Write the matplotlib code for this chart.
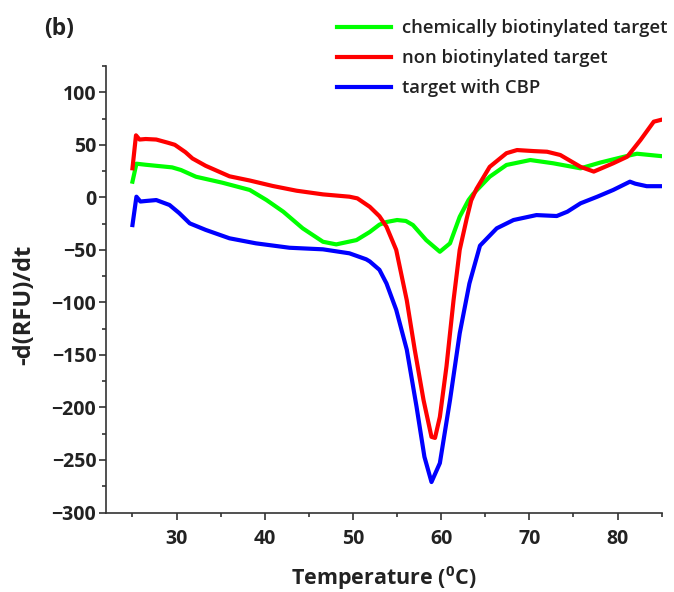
import matplotlib
matplotlib.use("Agg")
import matplotlib.pyplot as plt
from matplotlib.ticker import MultipleLocator

plt.rcParams['font.family'] = ['Open Sans', 'DejaVu Sans']
plt.rcParams['mathtext.fontset'] = 'custom'
plt.rcParams['mathtext.rm'] = 'Open Sans'
plt.rcParams['mathtext.bf'] = 'Open Sans:bold'

# ---- data ----
temp_green = [25.0, 25.45, 26.5, 27.7, 29.5, 30.5, 32.2, 35.2, 38.3, 40.2, 42.1, 44.3,
              46.6, 48.1, 50.4, 51.9, 53.0, 53.8, 55.0, 56.0, 56.8, 58.3, 59.85, 61.0,
              62.1, 63.1, 63.6, 65.5, 67.4, 70.1, 72.7, 75.8, 78.0, 79.2, 81.4, 82.2, 84.85]
green = [14.9, 32, 31, 30, 28.5, 26, 19.6, 13.9, 7, -2.6, -13.7, -29.5,
         -42.3, -44.8, -40.7, -33, -26, -23.5, -21.6, -22.5, -26.4, -40.7, -51.8, -43.8,
         -18.5, -2.6, 3, 19.6, 30.8, 35.5, 32.4, 27.6, 33, 35.5, 40, 41.5, 39.3]

temp_red = [25.0, 25.4, 25.8, 26.5, 27.7, 29.0, 29.8, 31.0, 31.8, 33.3, 36.0, 38.3,
            40.9, 43.6, 46.6, 49.6, 50.5, 51.9, 53.0, 53.8, 54.9, 56.1, 57.0, 58.0,
            58.9, 59.3, 59.85, 60.6, 61.4, 62.1, 62.9, 63.4, 64.0, 65.5, 67.4, 68.6,
            70.5, 72.0, 73.5, 75.8, 77.3, 79.5, 81.1, 82.6, 84.1, 84.85]
red = [27.6, 59, 55, 55.5, 55, 52, 50, 43, 37, 30, 20, 16,
       10.8, 6.3, 2.8, 0.6, -1, -9, -18, -28, -50, -98, -145, -193,
       -228, -229, -209, -161, -98, -50, -20, -3, 8, 29, 42, 45,
       44, 43.4, 40.3, 29, 24.5, 32.4, 38.7, 54.6, 72, 73.6]

temp_blue = [25.0, 25.45, 25.9, 26.5, 27.7, 29.2, 30.3, 31.5, 33.3, 36.0, 39.0, 42.8,
             46.6, 49.6, 51.5, 51.9, 53.0, 53.8, 54.9, 56.1, 57.2, 58.1, 58.9, 59.85,
             61.0, 62.1, 63.2, 64.4, 66.3, 68.2, 70.8, 73.1, 74.3, 75.8, 77.7, 79.5,
             81.4, 82.0, 83.3, 84.85]
blue = [-26.4, 0.6, -4, -3.5, -2.6, -7.3, -15, -24.8, -31, -39, -43.8, -48,
        -49.5, -53.3, -59, -61, -69, -82, -107, -145, -199, -247, -271, -253,
        -193, -129.5, -82, -46, -29.5, -21.6, -16.9, -17.8, -13.7, -5.7, 0.6, 7,
        14.9, 13, 10.6, 10.6]

labels = ['chemically biotinylated target', 'non biotinylated target', 'target with CBP']
colors = ['#00ff00', '#ff0000', '#0000ff']

# ---- figure ----
fig = plt.figure(figsize=(6.74, 5.92), dpi=100)
ax = fig.add_axes([106/674, 79.5/592, (661.7-106)/674, (512.5-66)/592])

lw = 3.0
ax.plot(temp_green, green, color=colors[0], lw=lw, label=labels[0], solid_joinstyle='round')
ax.plot(temp_red, red, color=colors[1], lw=lw, label=labels[1], solid_joinstyle='round')
ax.plot(temp_blue, blue, color=colors[2], lw=lw, label=labels[2], solid_joinstyle='round')

ax.set_xlim(22, 85)
ax.set_ylim(-300, 125)
ax.xaxis.set_minor_locator(MultipleLocator(5))
ax.yaxis.set_minor_locator(MultipleLocator(25))
ax.set_xticks([30, 40, 50, 60, 70, 80])
ax.set_yticks([-300, -250, -200, -150, -100, -50, 0, 50, 100])

for s in ['top', 'right']:
    ax.spines[s].set_visible(False)
for s in ['left', 'bottom']:
    ax.spines[s].set_linewidth(1.2)
    ax.spines[s].set_color('#333333')

ax.tick_params(which='major', direction='out', length=5, width=1.2, color='#333333',
               labelsize=14, pad=2, labelcolor='#222222')
ax.tick_params(axis='x', which='major', pad=7)
ax.tick_params(which='minor', direction='out', length=3, width=1.2, color='#333333')
for lab in ax.get_xticklabels() + ax.get_yticklabels():
    lab.set_fontweight('bold')

ax.set_xlabel('Temperature ($\\mathbf{^{0}}$C)', fontsize=15.5, fontweight='bold',
              color='#222222', labelpad=11)
ax.set_ylabel('-d(RFU)/dt', fontsize=17, fontweight='bold', color='#222222')
ax.yaxis.set_label_coords((36 - 106) / 555.7, (512.5 - 305) / 446.5)

leg = fig.legend(loc='upper left', bbox_to_anchor=(337/674, 1 - 19/592), frameon=False,
                 fontsize=13.3, handlelength=2.95, handletextpad=0.55, labelspacing=0.66,
                 borderpad=0, borderaxespad=0)
for t in leg.get_texts():
    t.set_color('#222222')
    t.set_fontweight('semibold')

fig.text(44/674, 1 - 29/592, '(b)', fontsize=16.5, fontweight='bold', va='center',
         ha='left', color='#222222')

fig.savefig('out.png', dpi=100)
